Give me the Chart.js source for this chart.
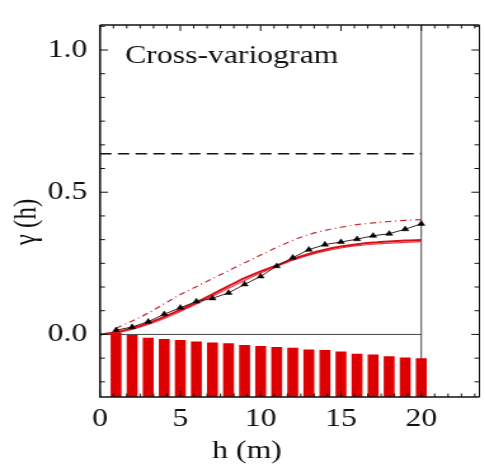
<!DOCTYPE html>
<html>
<head>
<meta charset="utf-8">
<script src="https://cdn.jsdelivr.net/npm/chart.js@4/dist/chart.umd.min.js"></script>
<style>
  html, body { margin: 0; padding: 0; background: #fff; }
  /* the source picture is stretched sideways, so the whole chart is too */
  #wrap { width: 382px; height: 471px; transform: scaleX(1.27); transform-origin: 0 0; }
</style>
</head>
<body>
<div id="wrap"><canvas id="chart"></canvas></div>
<script>
// lags (m) of the experimental cross-variogram
const lags = [1, 2, 3, 4, 5, 6, 7, 8, 9, 10, 11, 12, 13, 14, 15, 16, 17, 18, 19, 20];
// experimental values (black triangles)
const expGamma = [0.015, 0.026, 0.045, 0.071, 0.094, 0.116, 0.127, 0.146, 0.176, 0.204,
                  0.240, 0.270, 0.298, 0.316, 0.325, 0.335, 0.347, 0.354, 0.370, 0.389];
// fitted models, on lags 0..20
const modelLags = [0, 1, 2, 3, 4, 5, 6, 7, 8, 9, 10, 11, 12, 13, 14, 15, 16, 17, 18, 19, 20];
const modelA = [0, 0.008, 0.022, 0.040, 0.062, 0.087, 0.113, 0.141, 0.170, 0.198, 0.222,
                0.243, 0.265, 0.283, 0.298, 0.309, 0.317, 0.323, 0.327, 0.330, 0.332];
const modelB = [0, 0.006, 0.018, 0.035, 0.056, 0.081, 0.107, 0.134, 0.162, 0.190, 0.216,
                0.239, 0.261, 0.279, 0.293, 0.304, 0.312, 0.317, 0.321, 0.324, 0.326];
// dash-dot model (on lags 1..20)
const dashDot = [0.022, 0.047, 0.075, 0.108, 0.140, 0.168, 0.196, 0.224, 0.252, 0.279,
                 0.306, 0.331, 0.351, 0.366, 0.377, 0.386, 0.392, 0.397, 0.401, 0.404];
// top of the pair-count bars (in gamma units, bars rise from the bottom of the axis)
const pairTops = [0.007, -0.002, -0.012, -0.016, -0.020, -0.025, -0.028, -0.031, -0.037, -0.041,
                  -0.044, -0.047, -0.053, -0.055, -0.060, -0.068, -0.071, -0.077, -0.081, -0.084];
// sill (dashed line)
const sill = 0.635;
const xTicks = [0, 5, 10, 15, 20];
const yTicks = [0.0, 0.5, 1.0];

const X_MIN = 0, X_MAX = 23.62, X_CUT = 20;
const Y_MIN = -0.22, Y_MAX = 1.088;
const SX = 1.27; // horizontal stretch of the page
const FONT = "'Liberation Serif'";

const zip = (xs, ys) => ys.map((v, i) => ({ x: xs[i], y: v }));

// frame, inward ticks and texts, IDL style
const frame = {
  id: 'frame',
  beforeDatasetsDraw(chart) {
    const { ctx, chartArea: a, scales: { x, y } } = chart;
    const y0 = y.getPixelForValue(0);
    const xc = x.getPixelForValue(X_CUT);
    ctx.save();
    ctx.strokeStyle = '#444';
    ctx.lineWidth = 1;
    ctx.beginPath();
    ctx.moveTo(a.left, y0); ctx.lineTo(xc, y0);
    ctx.moveTo(xc, a.top); ctx.lineTo(xc, a.bottom);
    ctx.stroke();
    ctx.restore();
  },
  afterDraw(chart) {
    const { ctx, chartArea: a, scales: { x, y } } = chart;
    ctx.save();
    ctx.strokeStyle = '#111';
    // axes
    ctx.lineWidth = 1.6;
    ctx.beginPath();
    ctx.moveTo(a.left, a.top); ctx.lineTo(a.left, a.bottom); ctx.lineTo(a.right, a.bottom);
    ctx.moveTo(a.left, a.top); ctx.lineTo(a.right, a.top);
    ctx.stroke();
    ctx.lineWidth = 1;
    ctx.beginPath();
    ctx.moveTo(a.right, a.top); ctx.lineTo(a.right, a.bottom);
    ctx.stroke();

    // ticks on x: minor every 5/6
    ctx.lineWidth = 1;
    ctx.beginPath();
    for (let i = 0; i * 5 / 6 <= X_MAX; i++) {
      const px = x.getPixelForValue(i * 5 / 6);
      const len = i % 6 === 0 ? 6 : 3.5;
      ctx.moveTo(px, a.top); ctx.lineTo(px, a.top + len);
      ctx.moveTo(px, a.bottom); ctx.lineTo(px, a.bottom - len);
    }
    // ticks on y: minor every 1/12
    for (let k = Math.ceil(Y_MIN * 12); k <= Math.floor(Y_MAX * 12); k++) {
      const py = y.getPixelForValue(k / 12);
      const len = (k % 6 === 0 ? 8 : 5) / SX;
      ctx.moveTo(a.left, py); ctx.lineTo(a.left + len, py);
      ctx.moveTo(a.right, py); ctx.lineTo(a.right - len, py);
    }
    ctx.stroke();

    // texts
    ctx.fillStyle = '#111';
    ctx.font = '25px ' + FONT;
    ctx.textBaseline = 'alphabetic';
    ctx.textAlign = 'left';
    ctx.fillText('Cross-variogram', 125 / SX, 63);
    ctx.textAlign = 'center';
    ctx.textBaseline = 'middle';
    ctx.fillText('h (m)', 247 / SX, 451);
    ctx.translate(27 / SX, 222);
    ctx.rotate(-Math.PI / 2);
    ctx.fillText('γ (h)', 0, 0);
    ctx.restore();
  }
};

const red = 'rgb(222, 0, 0)';

new Chart(document.getElementById('chart'), {
  type: 'line',
  data: {
    datasets: [
      {
        type: 'bar',
        data: pairTops.map((v, i) => ({ x: lags[i], y: [Y_MIN, v] })),
        backgroundColor: red,
        borderWidth: 0,
        barPercentage: 0.68,
        categoryPercentage: 1,
        order: 10
      },
      {
        data: [{ x: 0, y: sill }, { x: X_CUT, y: sill }],
        borderColor: '#111',
        borderWidth: 1.5,
        borderDash: [9, 5],
        pointRadius: 0,
        order: 5
      },
      {
        data: zip(lags, dashDot),
        borderColor: 'rgb(200, 40, 50)',
        borderWidth: 1.2,
        borderDash: [5, 3, 1, 3],
        pointRadius: 0,
        cubicInterpolationMode: 'monotone',
        order: 4
      },
      {
        data: zip(modelLags, modelB),
        borderColor: 'rgb(235, 60, 70)',
        borderWidth: 1.2,
        pointRadius: 0,
        cubicInterpolationMode: 'monotone',
        order: 3
      },
      {
        data: zip(modelLags, modelA),
        borderColor: 'rgb(215, 15, 25)',
        borderWidth: 2,
        pointRadius: 0,
        cubicInterpolationMode: 'monotone',
        order: 2
      },
      {
        data: zip(lags, expGamma),
        borderColor: '#3a2020',
        borderWidth: 1,
        pointStyle: 'triangle',
        pointRadius: 3.2,
        pointBackgroundColor: '#000',
        pointBorderColor: '#000',
        pointBorderWidth: 0.5,
        order: 1
      }
    ]
  },
  options: {
    responsive: true,
    maintainAspectRatio: false,
    animation: false,
    events: [],
    layout: { padding: { top: 10, right: 1, left: 0, bottom: 0 } },
    plugins: { legend: { display: false }, tooltip: { enabled: false } },
    scales: {
      x: {
        type: 'linear',
        min: X_MIN,
        max: X_MAX,
        offset: false,
        grid: { display: false, drawTicks: false },
        border: { display: false },
        afterBuildTicks: s => { s.ticks = xTicks.map(v => ({ value: v })); },
        afterFit: s => { s.height = 74; },
        ticks: { color: '#111', font: { family: FONT, size: 25 }, padding: 7, maxRotation: 0, autoSkip: false }
      },
      y: {
        type: 'linear',
        min: Y_MIN,
        max: Y_MAX,
        grid: { display: false, drawTicks: false },
        border: { display: false },
        afterBuildTicks: s => { s.ticks = yTicks.map(v => ({ value: v })); },
        afterFit: s => { s.width = 100 / SX; },
        ticks: {
          color: '#111', font: { family: FONT, size: 25 }, padding: 10, autoSkip: false,
          callback: v => v.toFixed(1)
        }
      }
    }
  },
  plugins: [frame]
});
</script>
</body>
</html>
